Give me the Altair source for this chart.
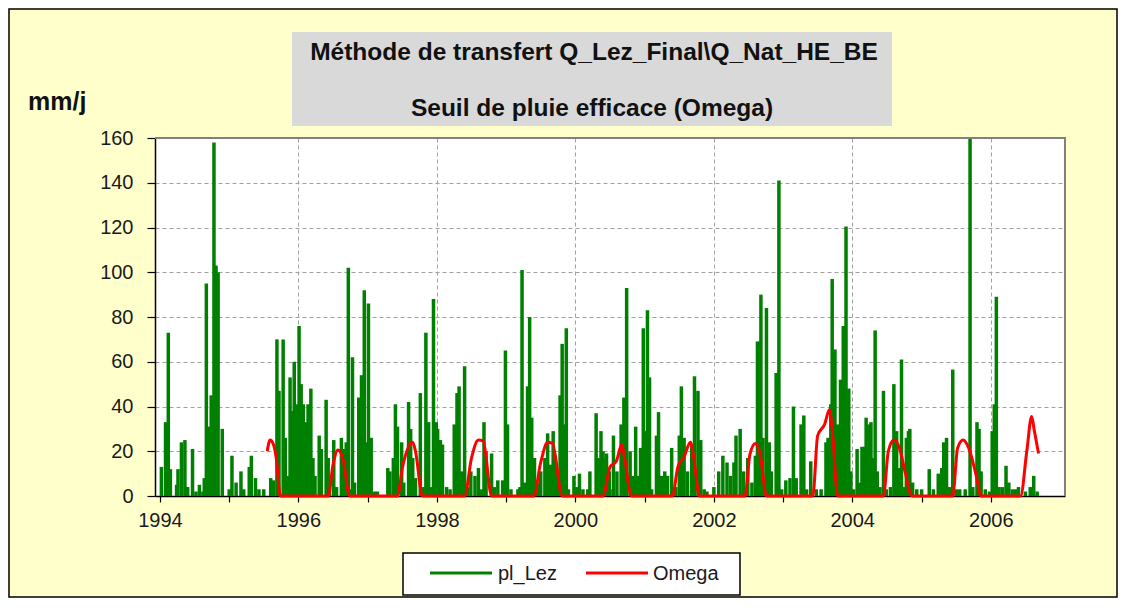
import altair as alt
import pandas as pd

FONT = "Liberation Sans"

# ---- data (decimal year, mm/day) ----
pl_lez = [
    (1994.02, 13), (1994.08, 33), (1994.12, 73), (1994.15, 12), (1994.24, 5), (1994.26, 12),
    (1994.31, 24), (1994.36, 25), (1994.40, 4), (1994.47, 21), (1994.52, 2), (1994.57, 5),
    (1994.62, 2), (1994.64, 8), (1994.67, 95), (1994.70, 31), (1994.74, 45), (1994.78, 158),
    (1994.81, 103), (1994.84, 100), (1994.90, 30), (1995.00, 3), (1995.04, 18), (1995.10, 6),
    (1995.17, 11), (1995.21, 3), (1995.29, 13), (1995.32, 18), (1995.38, 8), (1995.43, 3),
    (1995.50, 3), (1995.60, 8), (1995.64, 7), (1995.69, 70), (1995.72, 47), (1995.78, 70),
    (1995.81, 26), (1995.85, 9), (1995.88, 53), (1995.90, 38), (1995.94, 60), (1995.98, 41),
    (1996.01, 76), (1996.04, 50), (1996.07, 41), (1996.10, 33), (1996.14, 41), (1996.18, 48),
    (1996.21, 17), (1996.24, 9), (1996.30, 27), (1996.33, 21), (1996.40, 43), (1996.43, 17),
    (1996.45, 6), (1996.51, 25), (1996.55, 4), (1996.62, 26), (1996.65, 21), (1996.69, 24),
    (1996.72, 102), (1996.75, 3), (1996.78, 62), (1996.81, 6), (1996.87, 44), (1996.91, 54),
    (1996.95, 92), (1996.99, 24), (1997.01, 86), (1997.05, 26), (1997.10, 2), (1997.14, 2),
    (1997.29, 12.5), (1997.32, 11), (1997.37, 17), (1997.40, 41), (1997.43, 31), (1997.49, 24),
    (1997.52, 6), (1997.59, 42), (1997.62, 30), (1997.65, 17), (1997.69, 8), (1997.76, 46),
    (1997.80, 4), (1997.84, 73), (1997.88, 33), (1997.92, 4), (1997.95, 88), (1997.99, 33),
    (1998.01, 30), (1998.05, 25), (1998.08, 23), (1998.14, 4), (1998.19, 3), (1998.25, 32),
    (1998.29, 46), (1998.32, 49), (1998.36, 11), (1998.40, 58), (1998.44, 4), (1998.49, 11),
    (1998.55, 9), (1998.60, 12.5), (1998.64, 3), (1998.68, 33), (1998.71, 20), (1998.79, 19),
    (1998.83, 4), (1998.88, 7), (1998.95, 7), (1998.99, 65), (1999.02, 32), (1999.07, 3),
    (1999.17, 3), (1999.20, 4), (1999.23, 101), (1999.27, 6), (1999.31, 49), (1999.34, 80),
    (1999.37, 35), (1999.41, 17), (1999.45, 6), (1999.50, 11), (1999.56, 17), (1999.60, 28),
    (1999.64, 14), (1999.68, 29), (1999.71, 18), (1999.75, 11), (1999.78, 45), (1999.81, 68),
    (1999.83, 32), (1999.87, 75), (1999.90, 3), (1999.98, 9), (2000.02, 4), (2000.06, 10),
    (2000.11, 3), (2000.18, 3), (2000.21, 11), (2000.30, 37), (2000.33, 17), (2000.37, 29),
    (2000.40, 20), (2000.43, 17), (2000.45, 19), (2000.49, 11), (2000.50, 3), (2000.55, 27),
    (2000.60, 11), (2000.66, 32), (2000.70, 44), (2000.74, 93), (2000.79, 20), (2000.83, 9),
    (2000.87, 31), (2000.90, 9), (2000.94, 21.5), (2000.98, 75), (2001.01, 29), (2001.04, 83),
    (2001.07, 53), (2001.10, 3), (2001.17, 27), (2001.20, 37.5), (2001.24, 9), (2001.29, 11),
    (2001.33, 9), (2001.39, 21.5), (2001.45, 4), (2001.50, 27), (2001.53, 49), (2001.57, 26),
    (2001.62, 11), (2001.68, 23), (2001.72, 53.5), (2001.77, 47), (2001.81, 25), (2001.86, 3),
    (2001.90, 2), (2002.00, 4), (2002.07, 11), (2002.13, 18), (2002.19, 15), (2002.24, 9),
    (2002.29, 15), (2002.32, 27), (2002.38, 30), (2002.43, 11), (2002.49, 17), (2002.55, 6),
    (2002.60, 18), (2002.63, 69), (2002.66, 69), (2002.68, 90), (2002.71, 26), (2002.76, 84),
    (2002.80, 24), (2002.83, 11), (2002.90, 55), (2002.94, 141), (2002.98, 3), (2003.04, 7),
    (2003.10, 8), (2003.15, 40), (2003.19, 8), (2003.26, 32), (2003.30, 36), (2003.34, 3),
    (2003.40, 15.5), (2003.48, 3), (2003.55, 3), (2003.62, 24), (2003.65, 26), (2003.69, 41),
    (2003.71, 97), (2003.75, 65.5), (2003.79, 32), (2003.83, 52), (2003.87, 76), (2003.91, 120.5),
    (2003.95, 48), (2003.98, 11), (2004.02, 3), (2004.07, 21), (2004.11, 6), (2004.14, 22),
    (2004.18, 22), (2004.20, 35), (2004.24, 32), (2004.27, 33), (2004.30, 17), (2004.33, 74),
    (2004.36, 11), (2004.40, 4), (2004.45, 47), (2004.49, 3), (2004.55, 4), (2004.60, 50),
    (2004.64, 29), (2004.68, 12.5), (2004.71, 61), (2004.75, 4), (2004.78, 26), (2004.81, 29),
    (2004.83, 30), (2004.87, 6), (2004.93, 3), (2005.00, 3), (2005.11, 12), (2005.17, 3),
    (2005.24, 10), (2005.29, 12.5), (2005.32, 24), (2005.36, 26), (2005.40, 4), (2005.45, 56.5),
    (2005.50, 3), (2005.55, 3), (2005.63, 3), (2005.70, 165), (2005.74, 4), (2005.80, 33),
    (2005.83, 30), (2005.86, 11), (2005.92, 3), (2005.98, 2), (2006.02, 29), (2006.05, 41),
    (2006.08, 89), (2006.12, 4), (2006.17, 4), (2006.22, 13.5), (2006.26, 6), (2006.31, 3),
    (2006.36, 3), (2006.40, 4), (2006.50, 2), (2006.57, 4), (2006.62, 9), (2006.67, 2),
]

omega = [
    (1995.55, 20), (1995.59, 25), (1995.64, 23), (1995.68, 17), (1995.74, 0),
    (1996.43, 0), (1996.50, 14), (1996.57, 20.6), (1996.64, 17), (1996.74, 0),
    (1997.43, 0), (1997.50, 12.5), (1997.65, 24), (1997.69, 20), (1997.79, 0),
    (1998.40, 0), (1998.50, 17), (1998.60, 25), (1998.67, 24.5), (1998.79, 0),
    (1999.40, 0), (1999.50, 15), (1999.60, 24), (1999.67, 23.5), (1999.81, 0),
    (2000.40, 0), (2000.50, 13), (2000.59, 15.5), (2000.67, 23), (2000.71, 17), (2000.81, 0),
    (2001.40, 0), (2001.48, 13), (2001.57, 17.5), (2001.66, 24), (2001.71, 17), (2001.79, 0),
    (2002.45, 0), (2002.52, 18.5), (2002.60, 23.5), (2002.67, 18.5), (2002.76, 0),
    (2003.43, 0), (2003.50, 27), (2003.60, 32), (2003.67, 38.5), (2003.71, 30), (2003.79, 0),
    (2004.45, 0), (2004.52, 20), (2004.60, 25), (2004.68, 21.5), (2004.76, 11), (2004.86, 0),
    (2005.45, 0), (2005.52, 21.5), (2005.60, 25), (2005.68, 21.5), (2005.79, 9), (2005.86, 0),
    (2006.43, 0), (2006.52, 20), (2006.59, 35.5), (2006.63, 29), (2006.69, 19),
]

y_ticks = [0, 20, 40, 60, 80, 100, 120, 140, 160]
x_tick_years = list(range(1994, 2007))
series_names = ["pl_Lez", "Omega"]
series_colors = ["#008000", "#FF0000"]
title_line1 = "Méthode de transfert Q_Lez_Final\\Q_Nat_HE_BE"
title_line2 = "Seuil de pluie efficace (Omega)"
y_unit = "mm/j"


def to_date(y):
    yr = int(y)
    start = pd.Timestamp(yr, 1, 1)
    end = pd.Timestamp(yr + 1, 1, 1)
    return (start + (end - start) * (y - yr)).strftime("%Y-%m-%dT%H:%M:%SZ")


pl_df = pd.DataFrame({
    "date": [to_date(d) for d, _ in pl_lez],
    "mm": [v for _, v in pl_lez],
    "series": series_names[0],
})
om_df = pd.DataFrame({
    "date": [to_date(d) for d, _ in omega],
    "mm": [v for _, v in omega],
    "series": series_names[1],
})

x_scale = alt.Scale(
    type="utc",
    domain=[alt.DateTime(year=1994, month=1, date=1, utc=True),
            alt.DateTime(year=2007, month=1, date=1, utc=True)],
    nice=False,
)
y_scale = alt.Scale(domain=[0, 160], nice=False)

x_axis = alt.Axis(
    values=[alt.DateTime(year=y, month=1, date=1, utc=True) for y in x_tick_years],
    labelExpr="utcyear(datum.value) % 2 == 0 ? utcFormat(datum.value, '%Y') : ''",
    grid=True, gridDash=[4, 3], gridColor="#A0A0A0", gridWidth=1,
    gridOpacity={"condition": {"test": "utcyear(datum.value) % 2 == 1 || utcyear(datum.value) == 1994",
                               "value": 0}, "value": 1},
    tickSize=6, tickColor="black", tickWidth=1.2,
    domainColor="black", domainWidth=1.5,
    labelFont=FONT, labelFontSize=20, labelColor="#1a1a1a", labelPadding=8,
    labelOverlap=False, labelFlush=False, title=None,
)
y_axis = alt.Axis(
    values=y_ticks,
    grid=True, gridDash=[4, 3], gridColor="#A0A0A0", gridWidth=1,
    gridOpacity={"condition": {"test": "datum.value == 0 || datum.value == 160", "value": 0}, "value": 1},
    tickSize=8, tickColor="black", tickWidth=1.2,
    domainColor="black", domainWidth=1.5,
    labelFont=FONT, labelFontSize=20, labelColor="#1a1a1a", labelPadding=14,
    title=None,
)

color = alt.Color(
    "series:N",
    scale=alt.Scale(domain=series_names, range=series_colors),
    legend=None,
)

bars = alt.Chart(pl_df).mark_bar(width=3.5, clip=True).encode(
    x=alt.X("date:T", scale=x_scale, axis=x_axis),
    y=alt.Y("mm:Q", scale=y_scale, axis=y_axis),
    color=color,
)
line = alt.Chart(om_df).mark_line(strokeWidth=3, interpolate="monotone").encode(
    x=alt.X("date:T", scale=x_scale),
    y=alt.Y("mm:Q", scale=y_scale),
    color=color,
)

one = pd.DataFrame({"k": [0]})
border = alt.Chart(one).mark_rect(fillOpacity=0, stroke="black", strokeWidth=1.5).encode(
    x=alt.value(-146), x2=alt.value(962), y=alt.value(-129), y2=alt.value(459)
)
frame_top = alt.Chart(one).mark_rule(color="#808080", strokeWidth=2).encode(
    x=alt.value(0), x2=alt.value(911), y=alt.value(0)
)
frame_right = alt.Chart(one).mark_rule(color="#808080", strokeWidth=2).encode(
    x=alt.value(910), y=alt.value(0), y2=alt.value(358)
)
title_box = alt.Chart(one).mark_rect(color="#D9D9D9").encode(
    x=alt.value(137), x2=alt.value(737), y=alt.value(-106), y2=alt.value(-12)
)
t1 = alt.Chart(pd.DataFrame({"t": [title_line1]})).mark_text(
    font=FONT, fontSize=24.5, fontWeight="bold", align="center", baseline="middle", color="#111111"
).encode(x=alt.value(439), y=alt.value(-85), text="t:N")
t2 = alt.Chart(pd.DataFrame({"t": [title_line2]})).mark_text(
    font=FONT, fontSize=24.5, fontWeight="bold", align="center", baseline="middle", color="#111111"
).encode(x=alt.value(437), y=alt.value(-29), text="t:N")
unit = alt.Chart(pd.DataFrame({"t": [y_unit]})).mark_text(
    font=FONT, fontSize=25, fontWeight="bold", align="left", baseline="middle", color="#111111"
).encode(x=alt.value(-127), y=alt.value(-36), text="t:N")

# legend (box, line keys, labels)
legend_df = pd.DataFrame({
    "series": series_names,
    "x1": [275, 431],
    "x2": [337, 493],
    "xt": [343, 498],
})
legend_box = alt.Chart(one).mark_rect(fill="white", stroke="black", strokeWidth=1.5).encode(
    x=alt.value(248), x2=alt.value(585), y=alt.value(415), y2=alt.value(457)
)
legend_keys = alt.Chart(legend_df).mark_rule(strokeWidth=3).encode(
    x=alt.X("x1:Q", scale=None), x2="x2:Q", y=alt.value(435),
    color=alt.Color("series:N", scale=alt.Scale(domain=series_names, range=series_colors), legend=None),
)
legend_labels = alt.Chart(legend_df).mark_text(
    font=FONT, fontSize=20, align="left", baseline="middle", color="#1a1a1a"
).encode(x=alt.X("xt:Q", scale=None), y=alt.value(436), text="series:N")

chart = alt.layer(
    border, title_box, t1, t2, unit, bars, line, frame_top, frame_right,
    legend_box, legend_keys, legend_labels,
).properties(
    width=910, height=358,
    autosize=alt.AutoSizeParams(type="none"),
    padding={"left": 147, "top": 130, "right": 53, "bottom": 102},
    background="#FFFFCC",
).configure_view(fill="white", strokeWidth=0)

chart.save("out.html", embed_options={"renderer": "svg", "actions": False})
